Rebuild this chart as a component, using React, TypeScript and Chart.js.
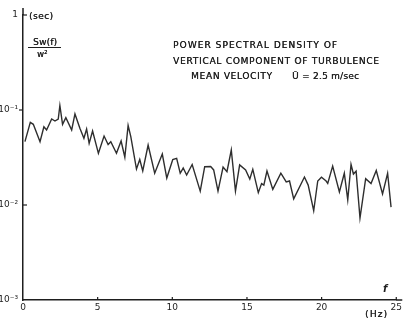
import React, { useEffect, useRef } from "react";
import { Chart, registerables } from "chart.js";

Chart.register(...registerables);

const freqHz = [
  0.13, 0.49, 0.69, 1.14, 1.4, 1.58, 1.92, 2.14, 2.36, 2.47,
  2.65, 2.87, 3.26, 3.48, 3.81, 4.08, 4.26, 4.43, 4.66, 5.05,
  5.43, 5.7, 5.88, 6.26, 6.57, 6.82, 7.04, 7.22, 7.6, 7.82,
  8.02, 8.38, 8.82, 9.33, 9.63, 10.03, 10.29, 10.53, 10.73, 10.96,
  11.33, 11.87, 12.17, 12.57, 12.77, 13.06, 13.4, 13.66, 13.95, 14.23,
  14.51, 14.91, 15.19, 15.39, 15.76, 15.98, 16.13, 16.34, 16.73, 17.27,
  17.63, 17.85, 18.13, 18.85, 19.1, 19.47, 19.74, 19.99, 20.3, 20.41,
  20.74, 21.19, 21.52, 21.75, 21.97, 22.13, 22.31, 22.57, 22.95, 23.31,
  23.66, 24.08, 24.42, 24.65,
];

const psdValues = [
  0.0464, 0.0742, 0.0707, 0.0464, 0.0667, 0.0616, 0.0804, 0.0766, 0.0804, 0.1115,
  0.0707, 0.083, 0.0616, 0.0908, 0.0642, 0.0504, 0.0631, 0.0446, 0.0601, 0.035,
  0.0532, 0.0433, 0.0464, 0.035, 0.0472, 0.0318, 0.0687, 0.0524, 0.0239, 0.0301,
  0.0228, 0.0428, 0.0216, 0.0344, 0.0192, 0.0301, 0.031, 0.0216, 0.0245, 0.0207,
  0.0267, 0.014, 0.0253, 0.0254, 0.0234, 0.014, 0.0251, 0.0224, 0.0379, 0.014,
  0.0264, 0.0234, 0.0188, 0.0237, 0.0135, 0.0168, 0.0162, 0.0228, 0.0146, 0.0216,
  0.0175, 0.0179, 0.0116, 0.0197, 0.0162, 0.0087, 0.0179, 0.0196, 0.0179, 0.0169,
  0.0257, 0.0137, 0.0216, 0.0113, 0.0267, 0.0212, 0.0227, 0.0073, 0.0189, 0.0168,
  0.0231, 0.0131, 0.0216, 0.0095,
];

const xTickValues = [0, 5, 10, 15, 20, 25];
const yTickValues = [1, 0.1, 0.01, 0.001];
const yTickLabels = ["1", "10\u207B\u00B9", "10\u207B\u00B2", "10\u207B\u00B3"];

const titleLines = [
  "POWER SPECTRAL DENSITY OF",
  "VERTICAL COMPONENT OF TURBULENCE",
];
const velocityLabel = "MEAN VELOCITY";
const velocityValue = "\u016A = 2.5 m/sec";
const yUnit = "(sec)";
const yNumerator = "Sw(f)";
const yDenominator = "w\u00B2";
const xUnit = "(Hz)";
const xSymbol = "f";

const INK = "#1e1e1e";
const FONT = "'DejaVu Sans', 'Liberation Sans', sans-serif";

function fitText(ctx: CanvasRenderingContext2D, text: string, x: number, y: number, width: number) {
  (ctx as any).letterSpacing = "0px";
  const w = ctx.measureText(text).width;
  const sp = Math.max(0, (width - w) / Math.max(1, text.length - 1));
  (ctx as any).letterSpacing = sp + "px";
  ctx.fillText(text, x, y);
  ctx.fillText(text, x + 0.3, y);
  (ctx as any).letterSpacing = "0px";
}

const annotations = {
  id: "annotations",
  afterDraw(chart: any) {
    const ctx: CanvasRenderingContext2D = chart.ctx;
    const xs = chart.scales.x;
    const ys = chart.scales.y;
    ctx.save();
    ctx.strokeStyle = INK;
    ctx.lineWidth = 1.2;
    xTickValues.forEach((v) => {
      if (v === 0) return;
      const px = xs.getPixelForValue(v);
      ctx.beginPath();
      ctx.moveTo(px, ys.bottom - 3);
      ctx.lineTo(px, ys.bottom);
      ctx.stroke();
    });
    yTickValues.forEach((v, i) => {
      if (i === yTickValues.length - 1) return;
      const py = ys.getPixelForValue(v);
      ctx.beginPath();
      if (i === 1) {
        ctx.moveTo(xs.left - 4, py);
        ctx.lineTo(xs.left, py);
      } else {
        ctx.moveTo(xs.left, py);
        ctx.lineTo(xs.left + 4, py);
      }
      ctx.stroke();
    });
    ctx.lineWidth = 1.5;
    ctx.beginPath();
    ctx.moveTo(xs.left, ys.top);
    ctx.lineTo(xs.left, ys.top - 7);
    ctx.moveTo(xs.right, ys.bottom);
    ctx.lineTo(xs.right + 6, ys.bottom);
    ctx.stroke();

    ctx.fillStyle = INK;
    ctx.textBaseline = "alphabetic";
    ctx.textAlign = "left";
    ctx.font = `9px ${FONT}`;
    fitText(ctx, titleLines[0], 173, 48, 164);
    fitText(ctx, titleLines[1], 173, 64, 206);
    fitText(ctx, velocityLabel, 191, 79, 81);
    fitText(ctx, velocityValue, 292, 79, 67);

    ctx.font = `9px ${FONT}`;
    fitText(ctx, yUnit, 29, 18.5, 24);
    fitText(ctx, yNumerator, 33, 45, 24);
    ctx.lineWidth = 1.1;
    ctx.beginPath();
    ctx.moveTo(28, 47.5);
    ctx.lineTo(61, 47.5);
    ctx.stroke();
    ctx.font = `8.5px ${FONT}`;
    fitText(ctx, yDenominator, 37, 57, 9);

    ctx.font = `9px ${FONT}`;
    fitText(ctx, xUnit, 365, 317, 22);
    ctx.font = `italic bold 10px ${FONT}`;
    ctx.fillText(xSymbol, 383, 292);
    ctx.restore();
  },
};

export default function App() {
  const ref = useRef<HTMLCanvasElement | null>(null);
  useEffect(() => {
    if (!ref.current) return;
    const chart = new Chart(ref.current, {
      type: "line",
      data: {
        datasets: [
          {
            data: freqHz.map((f, i) => ({ x: f, y: psdValues[i] })),
            borderColor: "#2e2e2e",
            borderWidth: 1.4,
            pointRadius: 0,
            tension: 0,
            fill: false,
          },
        ],
      },
      options: {
        animation: false,
        responsive: false,
        maintainAspectRatio: false,
        layout: { padding: { top: 15, right: 7, left: 0, bottom: 0 } },
        plugins: {
          legend: { display: false },
          tooltip: { enabled: false },
          title: { display: false },
        },
        scales: {
          x: {
            type: "linear",
            min: 0,
            max: 25,
            afterBuildTicks: (s: any) => {
              s.ticks = xTickValues.map((v) => ({ value: v }));
            },
            afterFit: (s: any) => {
              s.height = 20;
            },
            grid: { display: true, drawOnChartArea: false, drawTicks: false },
            border: { display: true, color: INK, width: 1.5 },
            ticks: {
              color: INK,
              padding: 2,
              maxRotation: 0,
              font: { family: FONT, size: 9 },
              callback: (v: any) => String(v),
            },
          },
          y: {
            type: "logarithmic",
            min: 0.001,
            max: 1,
            afterBuildTicks: (s: any) => {
              s.ticks = yTickValues.map((v) => ({ value: v }));
            },
            afterFit: (s: any) => {
              s.width = 23;
            },
            grid: { display: true, drawOnChartArea: false, drawTicks: false },
            border: { display: true, color: INK, width: 1.5 },
            ticks: {
              color: INK,
              padding: 5,
              font: { family: FONT, size: 9 },
              callback: (v: any) => {
                const i = yTickValues.findIndex((t) => Math.abs(t - v) < t * 1e-6);
                return i >= 0 ? yTickLabels[i] : "";
              },
            },
          },
        },
      },
      plugins: [annotations],
    });
    return () => chart.destroy();
  }, []);
  return (
    <div style={{ position: "absolute", left: 0, top: 0, width: 404, height: 320, background: "#fff" }}>
      <canvas ref={ref} width={404} height={320} />
    </div>
  );
}
